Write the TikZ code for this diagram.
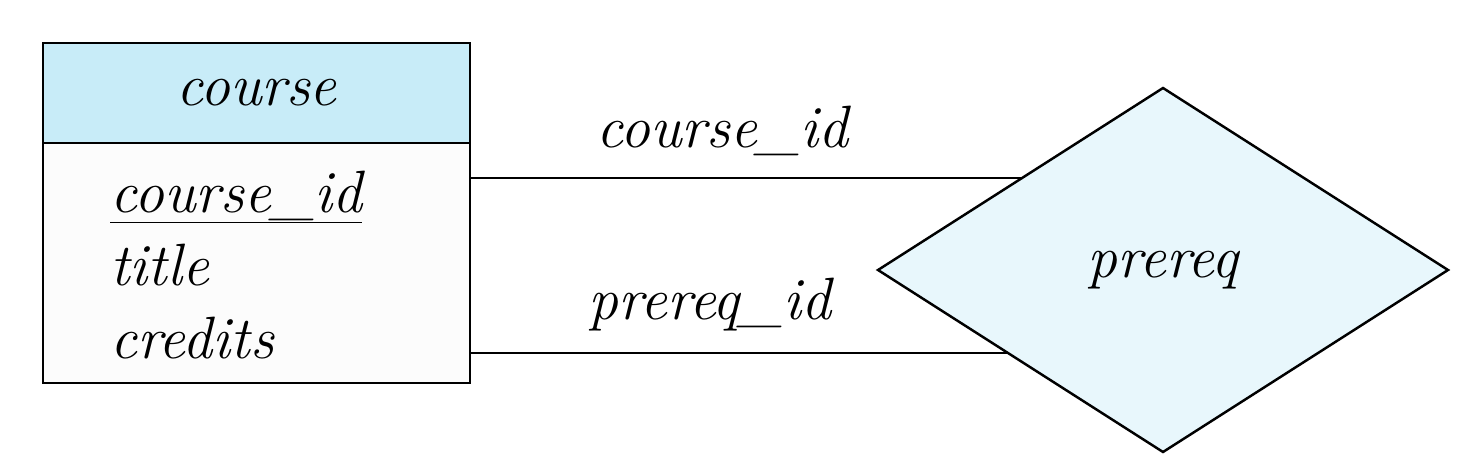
\documentclass[tikz,border=0pt]{standalone}
\usetikzlibrary{positioning, shapes.geometric, calc}
\usepackage{xcolor}
\definecolor{headblue}{RGB}{200,236,248}
\definecolor{relblue}{RGB}{232,247,252}
\definecolor{bodygray}{RGB}{252,252,252}

\begin{document}
\begin{tikzpicture}[
  every node/.style={font=\fontsize{34}{41}\selectfont\itshape},
  ent/.style={rectangle, draw=black, line width=1.4pt, minimum width=8.54cm, inner sep=0pt, outer sep=0pt},
  rel/.style={diamond, draw=black, fill=relblue, line width=1.4pt, minimum width=11.4cm, minimum height=7.28cm, inner sep=0pt, outer sep=0pt},
  attr/.style={anchor=base west, inner sep=0pt},
  role/.style={above, yshift=0.3cm},
  link/.style={line width=1.4pt}
]
\useasboundingbox (0,0) rectangle (29.42,9.4);

% Entity
\node[ent, fill=headblue, minimum height=2cm] (course) at (5.13,7.54) {course};
\node[ent, fill=bodygray, minimum height=4.8cm, below=0pt of course] (courseattr) {};

% Attributes
\node[attr] (cid) at (2.2,5.16) {\underline{course\_id}};
\node[attr] (title) at (2.2,3.7) {title};
\node[attr] (credits) at (2.2,2.24) {credits};

% Relationship
\node[rel] (prereq) at (23.26,4.0) {prereq};

% Links
\coordinate (top) at ($(prereq.west)!0.505!(prereq.north)$);
\coordinate (bot) at ($(prereq.west)!0.456!(prereq.south)$);
\draw[link] (courseattr.east |- top) -- node[role, pos=0.457] {course\_id} (top);
\draw[link] (courseattr.east |- bot) -- node[role, pos=0.446] {prereq\_id} (bot);

\end{tikzpicture}
\end{document}
